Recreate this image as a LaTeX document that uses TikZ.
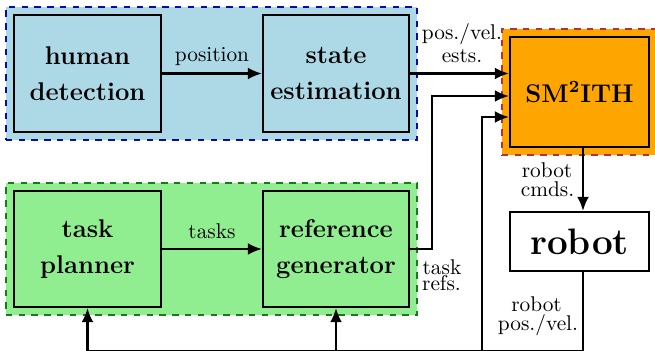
\documentclass[tikz,border=0pt]{standalone}
\usetikzlibrary{arrows.meta,calc,fit,backgrounds}
\definecolor{fillblue}{RGB}{173,216,230}
\definecolor{fillgreen}{RGB}{144,238,144}
\definecolor{fillorange}{RGB}{255,165,0}
\definecolor{dashblue}{RGB}{10,10,170}
\definecolor{dashgreen}{RGB}{20,125,20}
\definecolor{dashred}{RGB}{185,45,65}
\begin{document}
\begin{tikzpicture}[x=0.469pt,y=-0.469pt,
  box/.style={draw, line width=1.1pt, align=center, inner sep=0pt, font=\large\bfseries},
  grp/.style={dashed, line width=0.7pt, inner sep=3.28pt},
  arr/.style={line width=0.95pt, -{Latex[length=6.5pt,width=5.5pt]}},
  ln/.style={line width=0.95pt},
  lbl/.style={anchor=base, inner sep=0pt, font=\normalsize}]
\useasboundingbox (0,0) rectangle (655,351);

% boxes
\node[box, fill=fillblue, minimum width=147*0.469pt, minimum height=117*0.469pt] (hd) at (87.5,73.5) {human\\[2.7pt]detection};
\node[box, fill=fillblue, minimum width=146*0.469pt, minimum height=117*0.469pt] (se) at (336,73.5) {state\\[2.7pt]estimation};
\node[box, fill=fillgreen, minimum width=147*0.469pt, minimum height=116*0.469pt] (tp) at (87.5,249) {task\\[2.7pt]planner};
\node[box, fill=fillgreen, minimum width=146*0.469pt, minimum height=116*0.469pt] (rg) at (336,249) {reference\\[2.7pt]generator};
\node[box, fill=fillorange, minimum width=139*0.469pt, minimum height=110*0.469pt] (sm) at (579.5,92) {SM\textsuperscript{2}ITH};
\node[box, fill=white, font=\LARGE\bfseries, minimum width=139*0.469pt, minimum height=59*0.469pt] (robot) at (579.5,241.5) {robot};

% groups
\begin{scope}[on background layer]
\node[grp, draw=dashblue, fill=fillblue, fit=(hd)(se)] (gblue) {};
\node[grp, draw=dashgreen, fill=fillgreen, fit=(tp)(rg)] (ggreen) {};
\node[grp, draw=dashred, fill=fillorange, fit=(sm)] (gorange) {};
\end{scope}

% helper coordinates
\coordinate (cx) at (583,0);
\coordinate (bot) at (0,350.6);
\coordinate (bx) at (482,350.6);

% connectors
\draw[arr] (hd) -- (se);
\draw[arr] (se.east) -- (se.east -| sm.west);
\draw[arr] (rg.east) -- ++(22,0) |- ($(sm.west)+(0,4)$);
\draw[arr] (bx) |- ($(sm.west)+(0,25)$);
\draw[arr] (tp) -- (rg);
\draw[arr] (sm.south -| cx) -- (robot.north -| cx);
\draw[arr] (robot.south -| cx) |- (tp.south |- bot) -- (tp.south);
\draw[arr] (rg.south |- bot) -- (rg.south);

% labels
\node[lbl] (lpos) at (212,62) {position};
\node[lbl] (ltasks) at (212,238.5) {tasks};
\node[lbl] (lest1) at (462,40) {pos./vel.};
\node[lbl] (lest2) at (462,63) {ests.};
\node[lbl] (lcmd1) at (547,177.5) {robot};
\node[lbl] (lcmd2) at (547.5,196.5) {cmds.};
\node[lbl] (lref1) at (442,274) {task};
\node[lbl] (lref2) at (441.5,290) {refs.};
\node[lbl] (lrp1) at (536.5,311.5) {robot};
\node[lbl] (lrp2) at (538,330.5) {pos./vel.};
\end{tikzpicture}
\end{document}
